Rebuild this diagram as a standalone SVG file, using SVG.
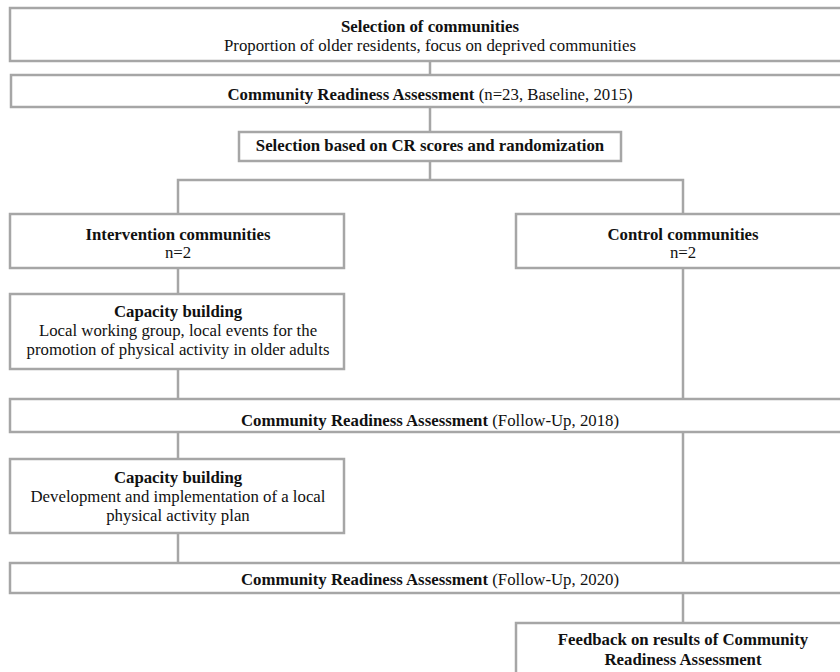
<svg xmlns="http://www.w3.org/2000/svg" width="840" height="672" viewBox="0 0 840 672">
<style>
  .box { fill: #ffffff; stroke: #a6a6a6; stroke-width: 2.5; }
  .conn { fill: none; stroke: #a6a6a6; stroke-width: 2.5; }
  text { font-family: "Liberation Serif", "Times New Roman", serif; font-size: 16.8px; fill: #111111; text-anchor: middle; }
  .b { font-weight: bold; }
</style>
<rect width="840" height="672" fill="#ffffff"/>
<g id="connectors">
  <line class="conn" x1="430" y1="61" x2="430" y2="75"/>
  <line class="conn" x1="430" y1="107" x2="430" y2="132"/>
  <line class="conn" x1="430" y1="161" x2="430" y2="180"/>
  <polyline class="conn" points="178,214 178,180 683,180 683,214"/>
  <line class="conn" x1="178" y1="268" x2="178" y2="294"/>
  <line class="conn" x1="178" y1="369" x2="178" y2="399"/>
  <line class="conn" x1="683" y1="268" x2="683" y2="399"/>
  <line class="conn" x1="178" y1="432" x2="178" y2="459"/>
  <line class="conn" x1="178" y1="533" x2="178" y2="563"/>
  <line class="conn" x1="683" y1="432" x2="683" y2="563"/>
  <line class="conn" x1="683" y1="593" x2="683" y2="623"/>
</g>
<g id="selection">
  <rect class="box" x="10" y="8" width="840" height="53"/>
  <text class="b" x="430" y="32">Selection of communities</text>
  <text x="430" y="51">Proportion of older residents, focus on deprived communities</text>
</g>
<g id="cra2015">
  <rect class="box" x="11" y="75" width="840" height="32"/>
  <text x="430" y="100"><tspan class="b">Community Readiness Assessment</tspan> (n=23, Baseline, 2015)</text>
</g>
<g id="randomization">
  <rect class="box" x="239" y="132" width="382" height="29"/>
  <text class="b" x="430" y="151">Selection based on CR scores and randomization</text>
</g>
<g id="intervention">
  <rect class="box" x="10" y="214" width="334" height="54"/>
  <text class="b" x="178" y="240">Intervention communities</text>
  <text x="178" y="258">n=2</text>
</g>
<g id="control">
  <rect class="box" x="516" y="214" width="334" height="54"/>
  <text class="b" x="683" y="240">Control communities</text>
  <text x="683" y="258">n=2</text>
</g>
<g id="capacity1">
  <rect class="box" x="10" y="294" width="334" height="75"/>
  <text class="b" x="178" y="317">Capacity building</text>
  <text x="178" y="336">Local working group, local events for the</text>
  <text x="178" y="355">promotion of physical activity in older adults</text>
</g>
<g id="cra2018">
  <rect class="box" x="10" y="399" width="840" height="33"/>
  <text x="430" y="426"><tspan class="b">Community Readiness Assessment</tspan> (Follow-Up, 2018)</text>
</g>
<g id="capacity2">
  <rect class="box" x="10" y="459" width="334" height="74"/>
  <text class="b" x="178" y="483">Capacity building</text>
  <text x="178" y="502">Development and implementation of a local</text>
  <text x="178" y="521">physical activity plan</text>
</g>
<g id="cra2020">
  <rect class="box" x="10" y="563" width="840" height="30"/>
  <text x="430" y="585"><tspan class="b">Community Readiness Assessment</tspan> (Follow-Up, 2020)</text>
</g>
<g id="feedback">
  <rect class="box" x="516" y="623" width="334" height="60"/>
  <text class="b" x="683" y="645">Feedback on results of Community</text>
  <text class="b" x="683" y="665">Readiness Assessment</text>
</g>
</svg>
